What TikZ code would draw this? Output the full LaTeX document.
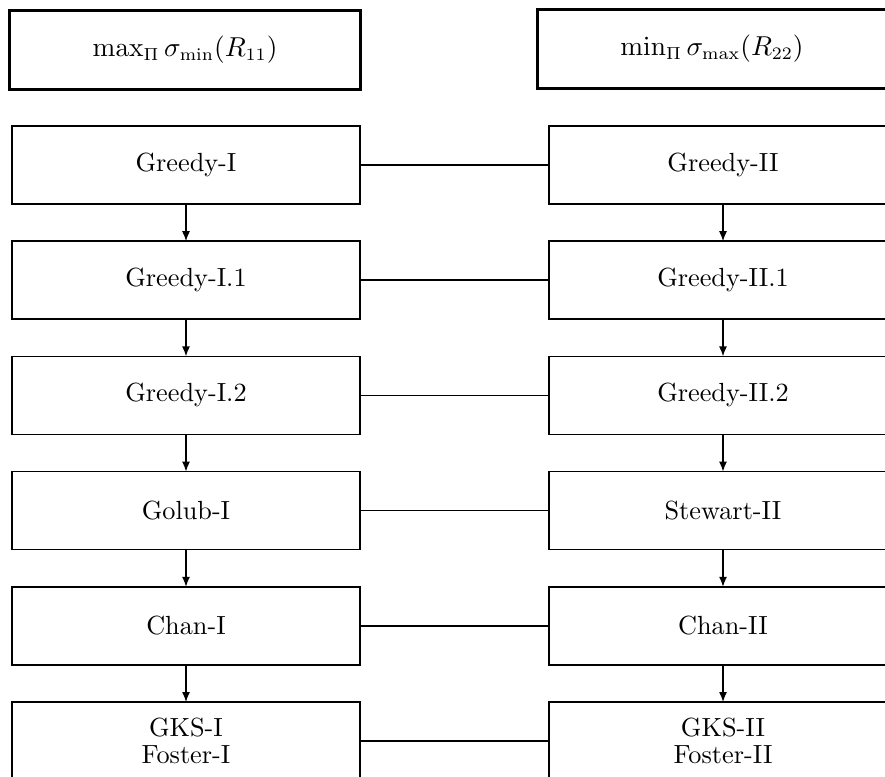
\documentclass[tikz,border=0pt]{standalone}
\usepackage{amsmath}
\usetikzlibrary{arrows.meta}
\tikzset{
    algbox/.style={draw, line width=0.7pt, minimum width=139.2pt, minimum height=31.2pt,
        inner sep=0pt, outer sep=0pt, align=center, font=\fontsize{10.5}{11}\selectfont},
    headbox/.style={algbox, line width=1.2pt, minimum width=140pt, minimum height=31.6pt},
    flow/.style={-{Latex[length=4pt,width=3.2pt]}, line width=0.55pt},
    link/.style={line width=0.6pt}
}
\newcommand{\qrpair}[3]{
    \node[algbox] (left#1) at (186, 165+115.2*#1) {#2};
    \node[algbox] (right#1) at (723, 165+115.2*#1) {#3};
    \draw[link] (left#1) -- (right#1);
}
\begin{document}
\begin{tikzpicture}[x=0.4pt, y=-0.4pt]
    \useasboundingbox (0, 0) rectangle (885, 776);
    \clip (0, 0) rectangle (885, 776);

    \node[headbox] (maxhead) at (185, 49.5) {$\max_\Pi \sigma_{\min}(R_{11})$};
    \node[headbox] (minhead) at (712, 49) {$\min_\Pi \sigma_{\max}(R_{22})$};

    \qrpair{0}{Greedy-I}{Greedy-II}
    \qrpair{1}{Greedy-I.1}{Greedy-II.1}
    \qrpair{2}{Greedy-I.2}{Greedy-II.2}
    \qrpair{3}{Golub-I}{Stewart-II}
    \qrpair{4}{Chan-I}{Chan-II}
    \qrpair{5}{GKS-I\\Foster-I}{GKS-II\\Foster-II}

    \foreach \i/\j in {0/1, 1/2, 2/3, 3/4, 4/5} {
        \draw[flow] (left\i) -- (left\j);
        \draw[flow] (right\i) -- (right\j);
    }
\end{tikzpicture}
\end{document}
